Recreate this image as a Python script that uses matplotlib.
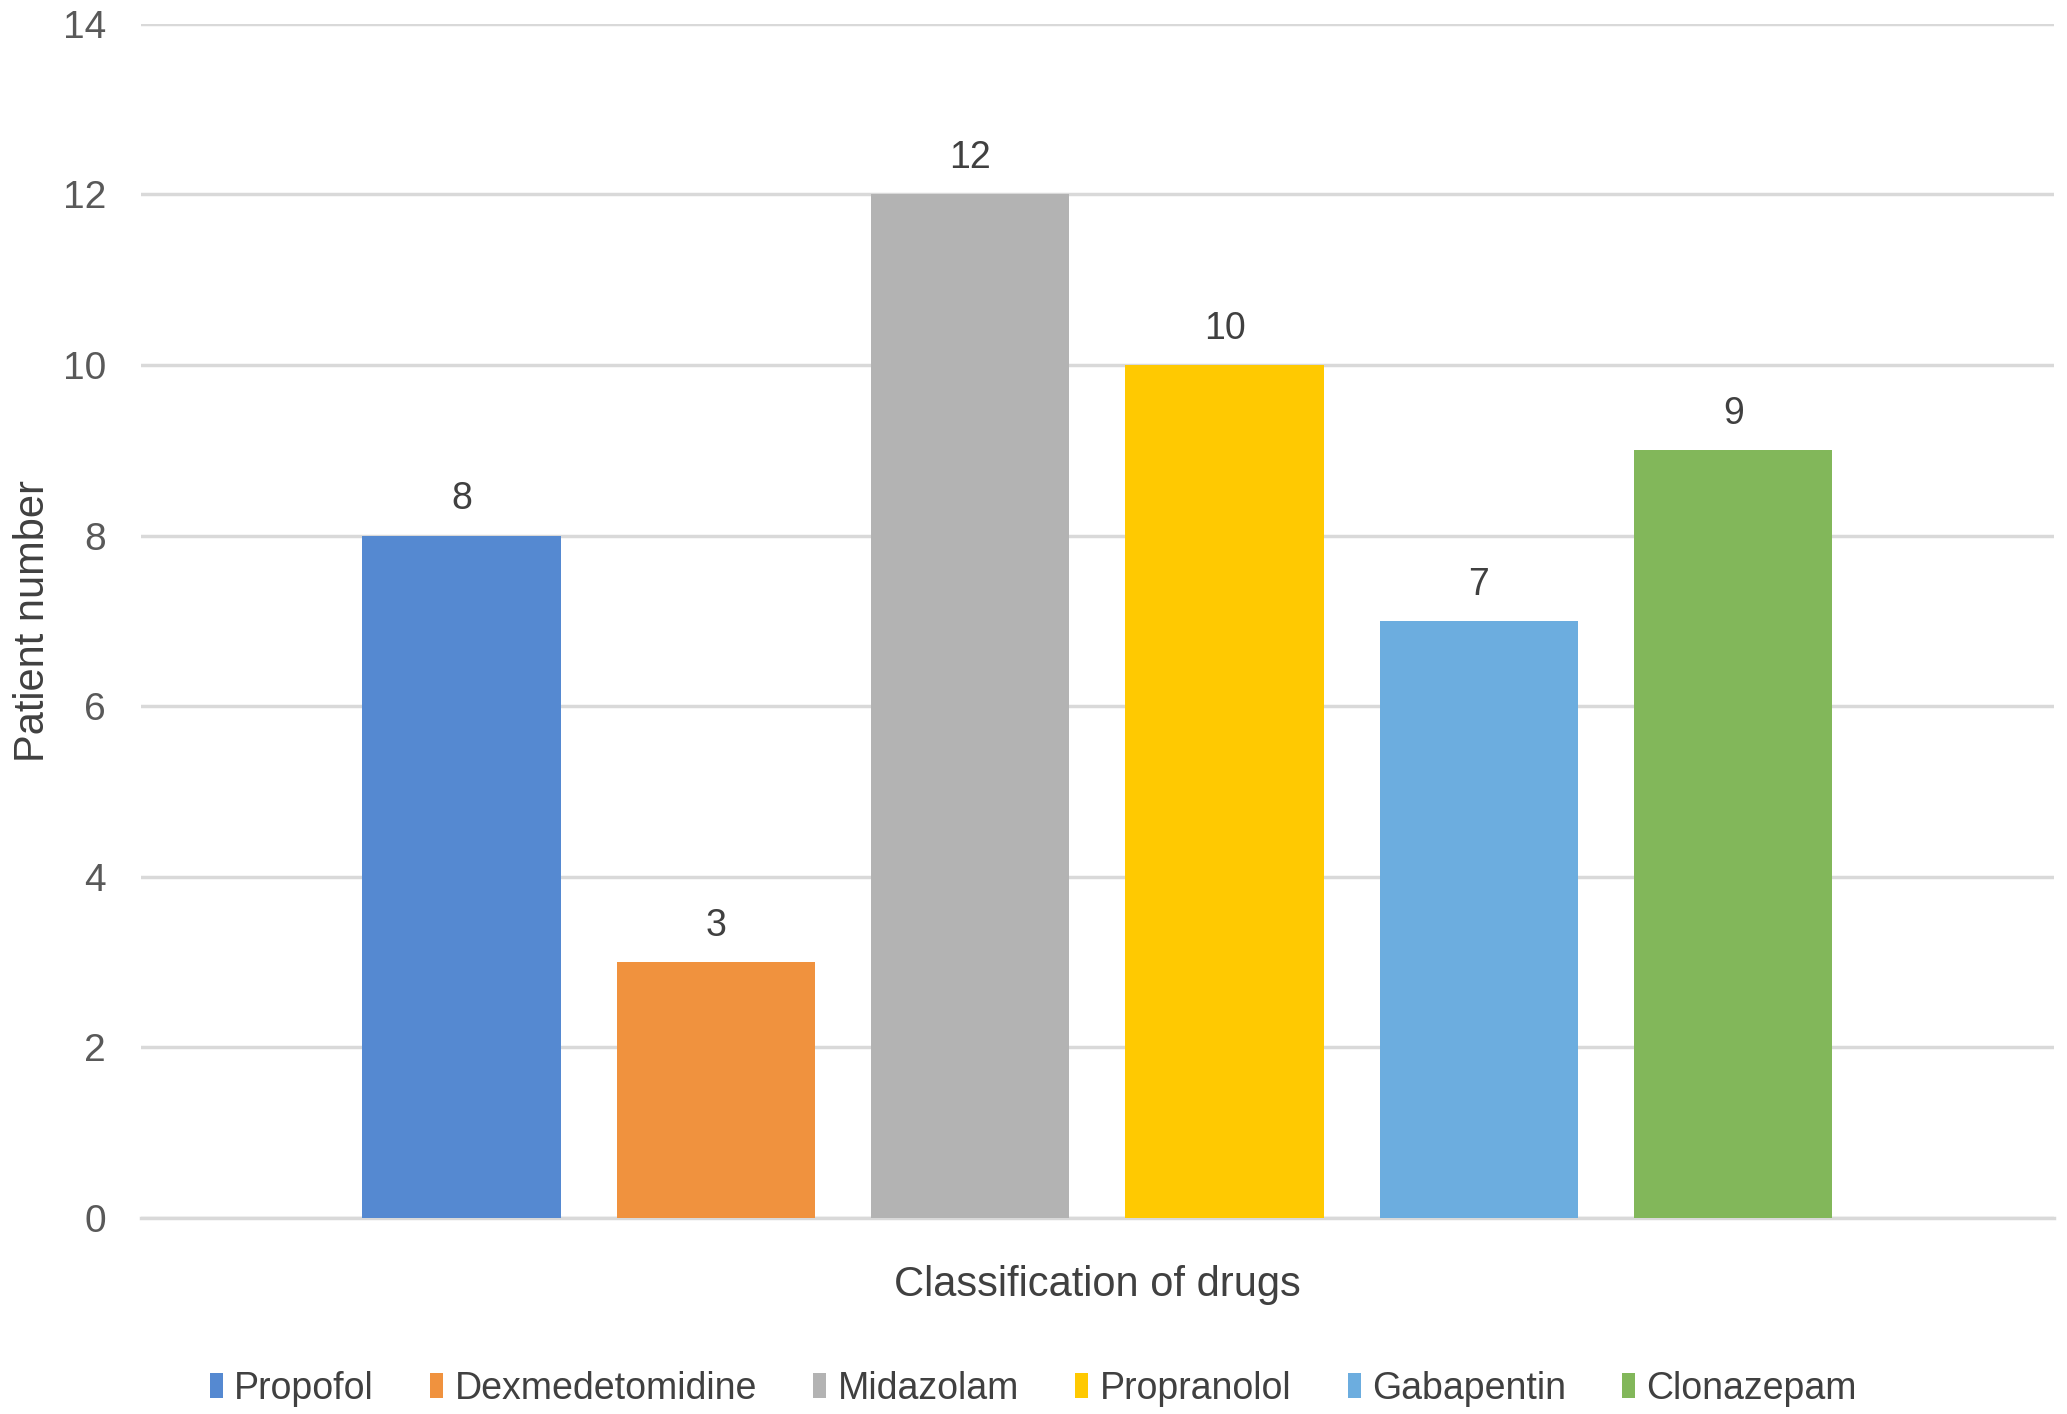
import numpy as np
import matplotlib.pyplot as plt
from matplotlib.patches import Patch

# Data
drugs = ['Propofol', 'Dexmedetomidine', 'Midazolam', 'Propranolol', 'Gabapentin', 'Clonazepam']
patients = [8, 3, 12, 10, 7, 9]
colors = ['#5589D1', '#F0923E', '#B3B3B3', '#FFC901', '#6CADDF', '#82B75A']
yticks = [0, 2, 4, 6, 8, 10, 12, 14]

plt.rcParams['font.family'] = ['Liberation Sans', 'DejaVu Sans']
text_color = '#404040'

fig = plt.figure(figsize=(20.67, 14.14), dpi=100)
ax = fig.add_axes([0.0682, 0.1387, 0.9254, 0.8445])

x = np.arange(len(drugs))
bars = ax.bar(x, patients, width=0.78, color=colors, zorder=3)

# Value labels above each bar
for xi, v in zip(x, patients):
    ax.annotate(str(v), (xi, v), xytext=(0, 13), textcoords='offset points',
                ha='center', va='bottom', fontsize=27, color=text_color)

ax.set_xlim(-1.26, 6.26)
ax.set_ylim(0, 14)
ax.set_yticks(yticks)
ax.set_xticks([])
ax.tick_params(axis='y', length=0, pad=25, labelsize=28, labelcolor='#595959')

# Gridlines
ax.grid(axis='y', color='#D9D9D9', linewidth=2.5, zorder=0)
for side in ['top', 'right', 'left']:
    ax.spines[side].set_visible(False)
ax.spines['bottom'].set_color('#D9D9D9')
ax.spines['bottom'].set_linewidth(2.5)

ax.set_xlabel('Classification of drugs', fontsize=30, color=text_color, va='center')
ax.xaxis.set_label_coords(0.5, -0.056)
ax.set_ylabel('Patient number', fontsize=30, color=text_color)
ax.yaxis.set_label_coords(-0.046, 0.5)

# Legend at the bottom
handles = [Patch(facecolor=c, label=d) for c, d in zip(colors, drugs)]
fig.legend(handles=handles, loc='center', bbox_to_anchor=(0.5, 0.018), ncol=6,
           frameon=False, fontsize=27, handlelength=0.35, handleheight=0.65,
           handletextpad=0.3, columnspacing=1.5, labelcolor=text_color)

fig.savefig('out.png', dpi=100)
